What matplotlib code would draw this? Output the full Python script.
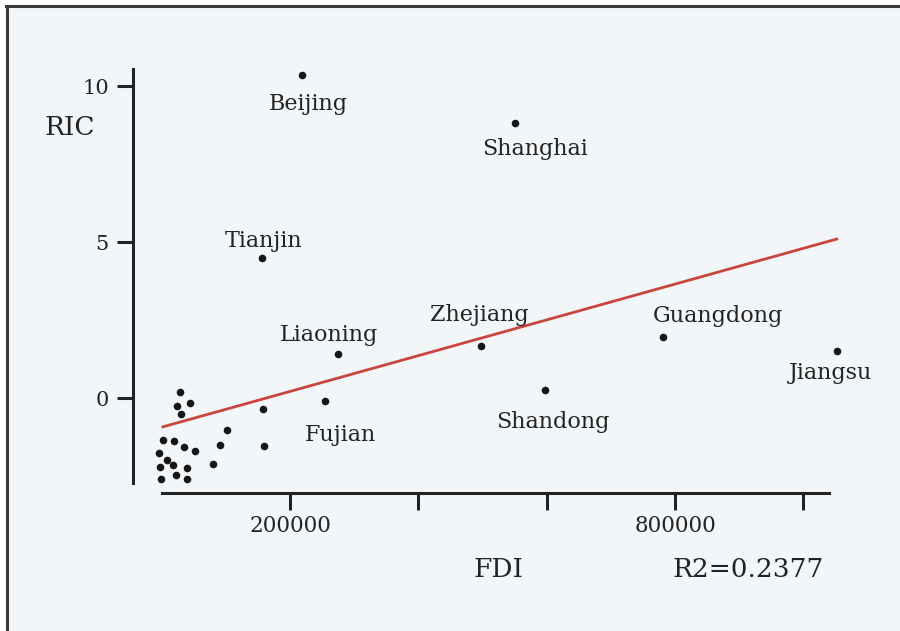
import numpy as np
import matplotlib
matplotlib.use("Agg")
from matplotlib import pyplot as plt
from matplotlib.patches import Rectangle
from matplotlib.lines import Line2D

## Labelled provinces: FDI vs RIC
provinces = ['Beijing', 'Tianjin', 'Shanghai', 'Liaoning', 'Fujian',
             'Zhejiang', 'Guangdong', 'Jiangsu', 'Shandong']
fdi_named = [218000, 156000, 550000, 275000, 254000,
             497000, 781000, 1052000, 597000]
ric_named = [10.35, 4.48, 8.82, 1.41, -0.08,
             1.68, 1.95, 1.50, 0.26]

## Unlabelled provinces (cluster near the origin)
fdi_other = [29000, 24000, 44000, 30000, 157000, 101000, 91000, 159000,
             80000, 1600, 18700, 33800, 51900, -4000, 8300, 17600,
             -3000, 38500, 21800, -1600, 38500]
ric_other = [0.19, -0.25, -0.16, -0.50, -0.35, -1.01, -1.49, -1.54,
             -2.10, -1.33, -1.36, -1.55, -1.70, -1.75, -1.98, -2.15,
             -2.22, -2.23, -2.46, -2.60, -2.60]

## Fitted line end points
fit_x = [1600, 1052000]
fit_y = [-0.92, 5.10]
r2_text = 'R2=0.2377'

## Label offsets (points) from each dot: text centre / baseline
label_offsets = {
    'Beijing': (5, -25), 'Tianjin': (1, 8.4), 'Shanghai': (14.4, -23.3),
    'Liaoning': (-7, 9.4), 'Fujian': (11.5, -29.2), 'Zhejiang': (-1, 18),
    'Guangdong': (39.4, 11.2), 'Jiangsu': (-4.1, -20.2), 'Shandong': (5.8, -27.6),
}

bg = '#f2f6f9'
ink = '#232323'
plt.rcParams['font.family'] = ['DejaVu Serif']

fig = plt.figure(figsize=(9, 6.31), dpi=100)
fig.patch.set_facecolor('white')
fig.add_artist(Rectangle((7/900, 0), 1 - 7/900, 1 - 6/631, transform=fig.transFigure,
                         facecolor=bg, edgecolor='none', zorder=0))
fig.add_artist(Line2D([6/900, 1], [1 - 6/631, 1 - 6/631], transform=fig.transFigure,
                      color='#3a3a3a', lw=2.2))
fig.add_artist(Line2D([7/900, 7/900], [0, 1 - 6/631], transform=fig.transFigure,
                      color='#3a3a3a', lw=2.2))

ax = fig.add_axes([133/900, 1 - 493/631, (829 - 133)/900, (493 - 69)/631])
ax.set_facecolor('none')
ax.set_xlim(-45000, 1040000)
ax.set_ylim(-3.04, 10.55)

ax.plot(fit_x, fit_y, color='#c8463d', lw=2.0, zorder=2, clip_on=False)
ax.scatter(fdi_other, ric_other, s=30, color='#161616', zorder=3, linewidths=0,
           clip_on=False)
ax.scatter(fdi_named, ric_named, s=30, color='#161616', zorder=3, linewidths=0,
           clip_on=False)

for name, x, y in zip(provinces, fdi_named, ric_named):
    ax.annotate(name, (x, y), xytext=label_offsets[name], textcoords='offset points',
                ha='center', va='baseline', fontsize=16, color=ink,
                annotation_clip=False)

for side in ['top', 'right']:
    ax.spines[side].set_visible(False)
ax.spines['left'].set_bounds(-2.72, 10.55)
ax.spines['bottom'].set_bounds(0, 1040000)
for side in ['left', 'bottom']:
    ax.spines[side].set_linewidth(2.2)
    ax.spines[side].set_color(ink)

ax.set_xticks([200000, 400000, 600000, 800000, 1000000])
ax.set_xticklabels(['200000', '', '', '800000', ''])
ax.set_yticks([0, 5, 10])
ax.set_yticklabels(['0', '5', '10'])
ax.tick_params(axis='x', direction='out', length=12, width=2.2, color=ink,
               labelsize=15.5, labelcolor=ink, pad=4)
ax.tick_params(axis='y', direction='out', length=11.5, width=2.2, color=ink,
               labelsize=15, labelcolor=ink, pad=6)

fig.text(69.5/900, 1 - 134.8/631, 'RIC', ha='center', va='baseline',
         fontsize=19, color=ink)
fig.text(498.5/900, 1 - 577/631, 'FDI', ha='center', va='baseline',
         fontsize=19, color=ink)
fig.text(748/900, 1 - 577/631, r2_text, ha='center', va='baseline',
         fontsize=19, color=ink)

fig.savefig('out.png', dpi=100)
